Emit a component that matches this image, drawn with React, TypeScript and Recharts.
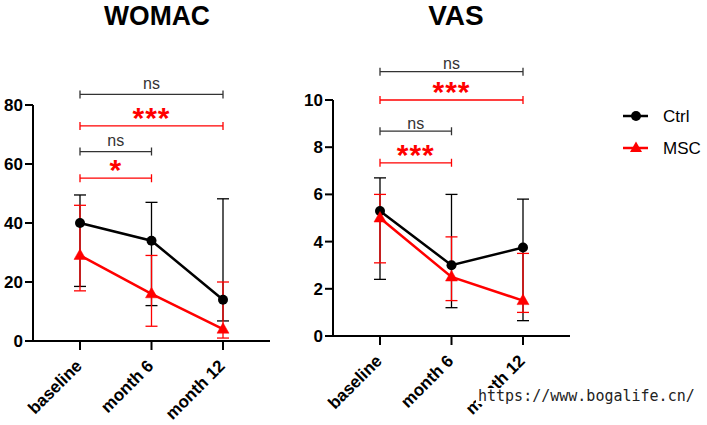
import React from 'react';
import { LineChart, Line, XAxis, YAxis, ErrorBar, ReferenceLine, Legend } from 'recharts';

const timepoints = ['baseline', 'month 6', 'month 12'];

const womacCtrlMean = [40, 34, 14];
const womacCtrlLow = [18.5, 12, 6.8];
const womacCtrlHigh = [49.5, 47, 48.2];
const womacMscMean = [29, 16, 4];
const womacMscLow = [17, 5, 1];
const womacMscHigh = [46, 29, 20];

const vasCtrlMean = [5.3, 3.0, 3.75];
const vasCtrlLow = [2.4, 1.2, 0.65];
const vasCtrlHigh = [6.7, 6.0, 5.8];
const vasMscMean = [5.0, 2.5, 1.5];
const vasMscLow = [3.1, 1.5, 1.0];
const vasMscHigh = [6.0, 4.2, 3.5];

const womacTicks = [0, 20, 40, 60, 80];
const vasTicks = [0, 2, 4, 6, 8, 10];

const seriesNames = ['Ctrl', 'MSC'];
const seriesMarkers = ['circle', 'triangle'];

const womacBrackets = [
  { from: 'baseline', to: 'month 12', y: 83.6, label: 'ns', group: 'ctrl' },
  { from: 'baseline', to: 'month 12', y: 72.9, label: '***', group: 'msc' },
  { from: 'baseline', to: 'month 6', y: 64.2, label: 'ns', group: 'ctrl' },
  { from: 'baseline', to: 'month 6', y: 55.2, label: '*', group: 'msc' },
];
const vasBrackets = [
  { from: 'baseline', to: 'month 12', y: 11.2, label: 'ns', group: 'ctrl' },
  { from: 'baseline', to: 'month 12', y: 10.0, label: '***', group: 'msc' },
  { from: 'baseline', to: 'month 6', y: 8.68, label: 'ns', group: 'ctrl' },
  { from: 'baseline', to: 'month 6', y: 7.34, label: '***', group: 'msc' },
];

const RED = '#ff0000';
const BLACK = '#000000';
const FONT = '"Liberation Sans", Arial, sans-serif';

function buildRows(cm, cl, ch, mm, ml, mh) {
  return timepoints.map((t, i) => ({
    time: t,
    ctrl: cm[i],
    ctrlErr: [cm[i] - cl[i], ch[i] - cm[i]],
    msc: mm[i],
    mscErr: [mm[i] - ml[i], mh[i] - mm[i]],
  }));
}

const womacData = buildRows(womacCtrlMean, womacCtrlLow, womacCtrlHigh, womacMscMean, womacMscLow, womacMscHigh);
const vasData = buildRows(vasCtrlMean, vasCtrlLow, vasCtrlHigh, vasMscMean, vasMscLow, vasMscHigh);

const TriangleDot = (props: any) => {
  const { cx, cy, index } = props;
  if (cx == null || cy == null) return <g key={`t${index}`} />;
  return (
    <path
      key={`t${index}`}
      d={`M${cx},${cy - 6.5}L${cx + 6},${cy + 4}L${cx - 6},${cy + 4}Z`}
      fill={RED}
      stroke={RED}
      strokeWidth={0.5}
    />
  );
};

const XTick = (props: any) => {
  const { x, y, payload } = props;
  const ax = x + 3;
  const ay = y + 15;
  return (
    <text
      x={ax}
      y={ay}
      transform={`rotate(-45, ${ax}, ${ay})`}
      textAnchor="end"
      fontFamily={FONT}
      fontWeight="bold"
      fontSize={17}
      fill="#000"
    >
      {payload.value}
    </text>
  );
};

const makeBracket = (label: string, color: string, textDy: number, isStar: boolean) => (props: any) => {
  const { x1, y1, x2 } = props;
  return (
    <g>
      <path
        d={`M${x1},${y1 - 4}V${y1 + 4}M${x1},${y1}H${x2}M${x2},${y1 - 4}V${y1 + 4}`}
        stroke={color}
        strokeWidth={1.3}
        fill="none"
      />
      <text
        x={(x1 + x2) / 2}
        y={y1 + textDy}
        textAnchor="middle"
        fill={color}
        fontFamily={FONT}
        fontWeight={isStar ? 'bold' : 'normal'}
        fontSize={isStar ? 30 : 16}
        letterSpacing={isStar ? 1 : 0}
      >
        {label}
      </text>
    </g>
  );
};

const LegendContent = (props: any) => {
  const { payload } = props;
  return (
    <div>
      {(payload || []).map((entry: any, i: number) => {
        const idx = seriesNames.indexOf(entry.value);
        const marker = seriesMarkers[idx];
        const color = entry.color;
        return (
          <svg key={i} width={90} height={32} style={{ display: 'block' }}>
            <line x1={3} y1={16} x2={28} y2={16} stroke={color} strokeWidth={2.5} />
            {marker === 'circle' ? (
              <circle cx={16} cy={16} r={5} fill={color} />
            ) : (
              <path d={`M16,${16 - 6.5}L22,20L10,20Z`} fill={color} />
            )}
            <text x={43} y={22} fontFamily={FONT} fontSize={17} fill="#000">
              {entry.value}
            </text>
          </svg>
        );
      })}
    </div>
  );
};

function Panel(props: any) {
  const { left, width, marginTop, marginBottom, marginRight, data, yMax, ticks, brackets, nsDy, showLegend } = props;
  return (
    <div style={{ position: 'absolute', left, top: 0 }}>
      <LineChart
        width={width}
        height={425}
        data={data}
        margin={{ top: marginTop, right: marginRight, bottom: marginBottom, left: 0 }}
      >
        <XAxis
          dataKey="time"
          type="category"
          scale="point"
          padding={{ left: 47, right: 47 }}
          height={60}
          tickSize={9}
          tickMargin={2}
          axisLine={{ stroke: BLACK, strokeWidth: 2 }}
          tickLine={{ stroke: BLACK, strokeWidth: 2 }}
          tick={<XTick />}
          interval={0}
        />
        <YAxis
          type="number"
          domain={[0, yMax]}
          ticks={ticks}
          width={33}
          tickSize={8}
          tickMargin={2}
          allowDataOverflow
          axisLine={{ stroke: BLACK, strokeWidth: 2 }}
          tickLine={{ stroke: BLACK, strokeWidth: 2 }}
          tick={{ fill: '#000', fontFamily: FONT, fontWeight: 'bold', fontSize: 17 }}
        />
        {brackets.map((b: any, i: number) => {
          const color = b.group === 'ctrl' ? '#333333' : RED;
          const isStar = b.label.indexOf('*') >= 0;
          return (
            <ReferenceLine
              key={`br${i}`}
              segment={[{ x: b.from, y: b.y }, { x: b.to, y: b.y }]}
              ifOverflow="visible"
              stroke={color}
              shape={makeBracket(b.label, color, isStar ? 2 : nsDy, isStar)}
            />
          );
        })}
        <Line
          dataKey="ctrl"
          name={seriesNames[0]}
          stroke={BLACK}
          strokeWidth={2.5}
          dot={{ r: 5, fill: BLACK, stroke: BLACK, strokeWidth: 0 }}
          activeDot={false}
          isAnimationActive={false}
        >
          <ErrorBar dataKey="ctrlErr" width={6} stroke={BLACK} strokeWidth={1.3} direction="y" isAnimationActive={false} />
        </Line>
        <Line
          dataKey="msc"
          name={seriesNames[1]}
          stroke={RED}
          strokeWidth={2.5}
          dot={<TriangleDot />}
          activeDot={false}
          isAnimationActive={false}
        >
          <ErrorBar dataKey="mscErr" width={6} stroke={RED} strokeWidth={1.3} direction="y" isAnimationActive={false} />
        </Line>
        {showLegend ? (
          <Legend
            layout="vertical"
            align="center"
            verticalAlign="middle"
            content={<LegendContent />}
            wrapperStyle={{ position: 'absolute', left: 320, top: 100, width: 90, height: 64 }}
          />
        ) : null}
      </LineChart>
    </div>
  );
}

export default function App() {
  return (
    <div style={{ position: 'fixed', left: 0, top: 0, width: 707, height: 425, background: '#fff', overflow: 'hidden' }}>
      <Panel
        left={0}
        width={290}
        marginTop={105}
        marginBottom={24}
        marginRight={20}
        data={womacData}
        yMax={80}
        ticks={womacTicks}
        brackets={womacBrackets}
        nsDy={-5.5}
        showLegend={false}
      />
      <Panel
        left={300}
        width={407}
        marginTop={100}
        marginBottom={29}
        marginRight={137}
        data={vasData}
        yMax={10}
        ticks={vasTicks}
        brackets={vasBrackets}
        nsDy={-2.5}
        showLegend={true}
      />
      <svg width={707} height={425} style={{ position: 'absolute', left: 0, top: 0, pointerEvents: 'none' }}>
        <text x={157} y={25} textAnchor="middle" fontFamily={FONT} fontWeight="bold" fontSize={28} textLength={106} lengthAdjust="spacingAndGlyphs" fill="#000">
          WOMAC
        </text>
        <text x={456} y={25} textAnchor="middle" fontFamily={FONT} fontWeight="bold" fontSize={28} fill="#000">
          VAS
        </text>
        <rect x={476} y={388} width={222} height={16} fill="#fff" />
        <text x={478} y={401} fontFamily='"DejaVu Sans Mono", monospace' fontSize={15} fill="#222">
          https://www.bogalife.cn/
        </text>
      </svg>
    </div>
  );
}
